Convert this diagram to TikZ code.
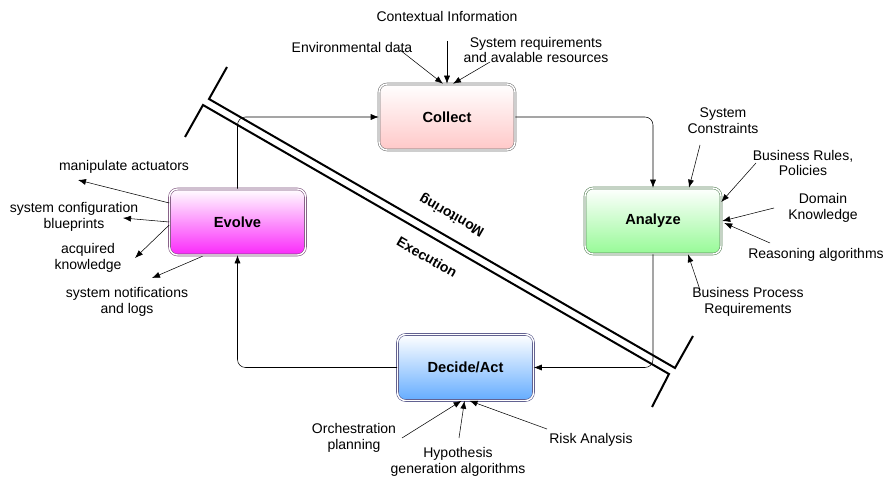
\documentclass[tikz,border=0pt]{standalone}
\usepackage{fontspec}
\setmainfont{Liberation Sans}
\usetikzlibrary{arrows.meta,calc}
\definecolor{collectpink}{RGB}{255,200,200}
\definecolor{analyzegreen}{RGB}{150,250,150}
\definecolor{decideblue}{RGB}{100,172,255}
\definecolor{evolvemagenta}{RGB}{250,40,250}

\begin{document}
\begin{tikzpicture}[x=0.75pt,y=-0.75pt,
    >={Latex[length=6pt,width=4.5pt]},
    font=\fontsize{10.5}{11.8}\selectfont,
    box/.style 2 args={draw=#2, double=white, double distance=1.1pt, rounded corners=6pt,
      minimum width=102pt, minimum height=49.5pt, top color=white, bottom color=#1,
      font=\fontsize{11}{12}\selectfont\bfseries},
    note/.style={align=center, inner sep=0pt},
    link/.style={->, rounded corners=6pt}]
    \useasboundingbox (0,0) rectangle (890,478);

    \node[box={collectpink}{black!55}] (collect) at (447,117) {Collect};
    \node[box={analyzegreen}{green!25!black!65}] (analyze) at (653,221) {Analyze};
    \node[box={decideblue}{blue!30!black!70}] (decide) at (465.5,367.5) {Decide/Act};
    \node[box={evolvemagenta}{violet!50!black!70}] (evolve) at (237.5,222) {Evolve};

    \draw[line width=1.5pt] (227,67) -- (209,99) -- (675,368) -- (693,336);
    \draw[line width=1.5pt] (185,137) -- (203,105) -- (669,374) -- (652,407);
    \node[font=\fontsize{10.5}{11.8}\selectfont\bfseries, rotate=150] (monitor) at (452,215) {Monitoring};
    \node[font=\fontsize{10.5}{11.8}\selectfont\bfseries, rotate=-30] (exec) at (427,257) {Execution};

    \draw[link] (evolve.north) |- (collect.west);
    \draw[link] (collect.east) -| (analyze.north);
    \draw[link] (analyze.south) |- (decide.east);
    \draw[link] (decide.west) -| (evolve.south);

    \node[note] (ctxinfo) at (447,16) {Contextual Information};
    \node[note] (envdata) at (352,47) {Environmental data};
    \node[note] (sysreq) at (536,50) {System requirements\\and avalable resources};
    \draw[->] ($(ctxinfo)+(0,25)$) -- (collect.north);
    \draw[->] ($(envdata)+(48,3)$) -- ($(collect.north)+(-4,0)$);
    \draw[->] ($(sysreq)+(-46,12)$) -- ($(collect.north)+(6,0)$);

    \node[note] (manip) at (124,167) {manipulate actuators};
    \node[note] (blueprints) at (74,217) {system configuration\\blueprints};
    \node[note] (knowledge) at (88,258) {acquired\\knowledge};
    \node[note] (notif) at (127,302) {system notifications\\and logs};
    \draw[->] ($(evolve.west)+(0,-19)$) -- ($(manip)+(-46,13)$);
    \draw[->] (evolve.west) -- ($(blueprints)+(49,1)$);
    \draw[->] ($(evolve.west)+(0,3)$) -- ($(knowledge)+(47,0)$);
    \draw[->] ($(evolve.south)+(-35,1)$) -- ($(notif)+(25,-24)$);

    \node[note] (constraints) at (723,121) {System\\Constraints};
    \node[note] (rules) at (803,163) {Business Rules,\\Policies};
    \node[note] (domain) at (823,208) {Domain\\Knowledge};
    \node[note] (reasoning) at (816,255) {Reasoning algorithms};
    \node[note] (bpr) at (748,302) {Business Process\\Requirements};
    \draw[->] ($(constraints)+(-23,24)$) -- ($(analyze.north)+(36,0)$);
    \draw[->] ($(rules)+(-47,0)$) -- ($(analyze.east)+(0,-19)$);
    \draw[->] ($(domain)+(-49,0)$) -- ($(analyze.east)+(1,0)$);
    \draw[->] ($(reasoning)+(-46,-12)$) -- ($(analyze.east)+(3,2)$);
    \draw[->] ($(bpr)+(-48,-12)$) -- ($(analyze.south)+(35,0)$);

    \node[note] (orch) at (354,438) {Orchestration\\planning};
    \node[note] (hypo) at (458,462) {Hypothesis\\generation algorithms};
    \node[note] (risk) at (591,440) {Risk Analysis};
    \draw[->] ($(orch)+(48,0)$) -- ($(decide.south)+(-4,0)$);
    \draw[->] ($(hypo)+(1,-24)$) -- ($(decide.south)+(-1,0)$);
    \draw[->] ($(risk)+(-44,-11)$) -- ($(decide.south)+(4,0)$);
  \end{tikzpicture}
\end{document}
